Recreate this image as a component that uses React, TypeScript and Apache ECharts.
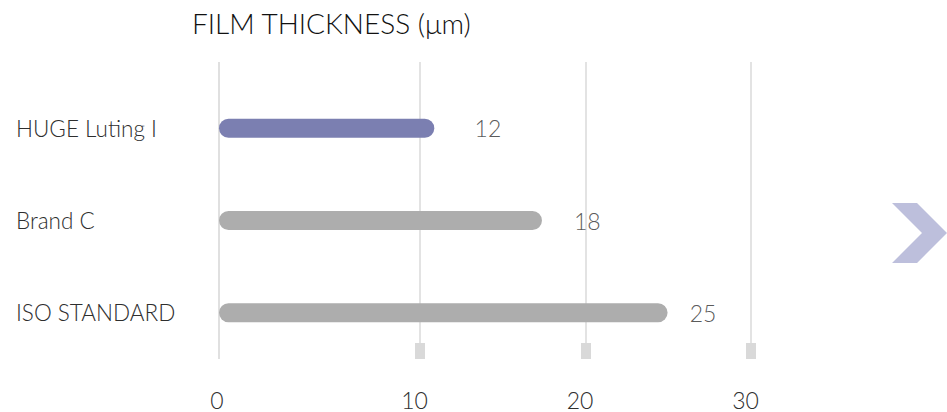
import React, { useEffect, useRef } from "react";
import * as echarts from "echarts";

const TITLE = "FILM THICKNESS (μm)";
const CATEGORIES = ["HUGE Luting I", "Brand C", "ISO STANDARD"];
const VALUES = [12, 18, 25];
const HIGHLIGHT = "HUGE Luting I";
const ZERO_TICK = [0];
const SCALE_TICKS = [10, 20, 30];

const FONT = "Lato, 'Noto Sans', sans-serif";
const TEXT = "#2e2e2e";
const WEIGHT = 300;

export default function App() {
  const ref = useRef<HTMLDivElement>(null);

  useEffect(() => {
    if (!ref.current) return;
    const chart = echarts.init(ref.current, undefined, { renderer: "svg" });

    const scaleAxisBase = {
      type: "value" as const,
      position: "bottom" as const,
      min: -2.145,
      max: 30,
      axisLine: { show: false },
      splitLine: { show: false },
    };

    chart.setOption({
      animation: false,
      backgroundColor: "#ffffff",
      title: {
        text: TITLE,
        left: 192,
        top: 9,
        padding: 0,
        textStyle: {
          fontFamily: FONT,
          fontSize: 28,
          fontWeight: WEIGHT,
          color: "#111111",
        },
      },
      grid: {
        left: 219,
        right: 196,
        top: 82,
        bottom: 53,
        containLabel: false,
        outerBoundsMode: "none",
      },
      yAxis: {
        type: "category",
        inverse: true,
        data: CATEGORIES,
        axisLine: { show: false },
        axisTick: { show: false },
        splitLine: { show: false },
        axisLabel: {
          align: "left",
          margin: 203,
          fontFamily: FONT,
          fontSize: 22.5,
          fontWeight: WEIGHT,
          color: TEXT,
          padding: [5, 0, 0, 0],
        },
      },
      xAxis: [
        {
          type: "value",
          position: "bottom",
          min: 0,
          max: 29.65,
          axisLine: { show: false },
          splitLine: { show: false },
          axisTick: {
            show: true,
            customValues: ZERO_TICK,
            inside: true,
            length: 297,
            lineStyle: { color: "#e0e0e0", width: 2 },
          },
          axisLabel: {
            customValues: ZERO_TICK,
            margin: 29,
            fontFamily: FONT,
            fontSize: 23,
            fontWeight: WEIGHT,
            color: TEXT,
            padding: [0, 4, 0, 0],
          },
        },
        {
          ...scaleAxisBase,
          axisTick: {
            show: true,
            customValues: SCALE_TICKS,
            inside: true,
            length: 297,
            lineStyle: { color: "#e3e3e3", width: 2 },
          },
          axisLabel: {
            customValues: SCALE_TICKS,
            margin: 29,
            fontFamily: FONT,
            fontSize: 23,
            fontWeight: WEIGHT,
            color: TEXT,
            padding: [0, 11, 0, 0],
          },
        },
        {
          ...scaleAxisBase,
          axisTick: {
            show: true,
            customValues: SCALE_TICKS,
            inside: true,
            length: 16,
            lineStyle: { color: "#d9d9d9", width: 10 },
          },
          axisLabel: { show: false },
        },
      ],
      series: [
        {
          type: "bar",
          xAxisIndex: 0,
          yAxisIndex: 0,
          barWidth: 19,
          data: VALUES.map((v, i) => ({
            value: v,
            itemStyle: {
              color: CATEGORIES[i] === HIGHLIGHT ? "#7b7fb1" : "#adadad",
              borderRadius: 10,
            },
          })),
          label: { show: false },
          z: 3,
        },
        {
          type: "scatter",
          xAxisIndex: 1,
          yAxisIndex: 0,
          symbol: "circle",
          symbolSize: 1,
          itemStyle: { color: "rgba(0,0,0,0)" },
          data: VALUES.map((v, i) => [v, CATEGORIES[i]]),
          label: {
            show: true,
            position: "right",
            distance: 21,
            fontFamily: FONT,
            fontSize: 23,
            fontWeight: WEIGHT,
            color: TEXT,
            padding: [5, 0, 0, 0],
            formatter: (p: any) => String(p.value[0]),
          },
          z: 4,
        },
      ],
      graphic: [
        {
          type: "polygon",
          shape: {
            points: [
              [892, 203],
              [917, 203],
              [947, 233],
              [917, 263],
              [892, 263],
              [922, 233],
            ],
          },
          style: { fill: "#bdbfdc" },
        },
      ],
    });

    return () => chart.dispose();
  }, []);

  return (
    <div
      ref={ref}
      style={{ position: "fixed", left: 0, top: 0, width: 947, height: 412 }}
    />
  );
}
